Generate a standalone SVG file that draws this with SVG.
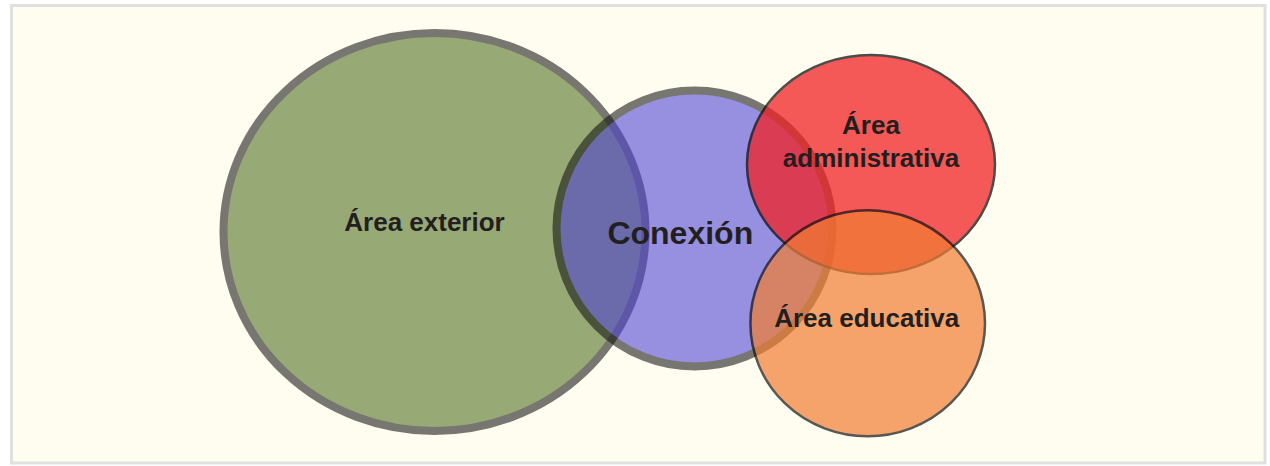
<svg xmlns="http://www.w3.org/2000/svg" width="1270" height="466" viewBox="0 0 1270 466">
<style>
.lbl{font-family:"Liberation Sans",Arial,sans-serif;font-weight:bold;fill:#231f20;text-anchor:middle}
.big{stroke:#111;stroke-width:8}
.thin{stroke:#111;stroke-width:2.5}
</style>
<rect x="11.5" y="5.5" width="1253.5" height="457.5" fill="#fffdf0" stroke="#e0e0e0" stroke-width="3"/>
<g id="nodes">
<g id="exterior"><ellipse class="big" cx="434.5" cy="232" rx="211" ry="199" fill="#496b1a" opacity="0.57"/></g>
<g id="conexion"><ellipse class="big" cx="694.5" cy="228.5" rx="138" ry="138" fill="#4a3ed4" opacity="0.57"/></g>
<g id="administrativa"><ellipse class="thin" cx="871" cy="164.5" rx="124" ry="109.5" fill="#f12125" opacity="0.75"/></g>
<g id="educativa"><ellipse class="thin" cx="867.7" cy="323.3" rx="117.3" ry="113" fill="#f17e32" opacity="0.7"/></g>
</g>
<g id="labels">
<text class="lbl" x="424.5" y="230.7" font-size="26">Área exterior</text>
<text class="lbl" x="680.3" y="244.3" font-size="32">Conexión</text>
<text class="lbl" x="871" y="134" font-size="26">Área</text>
<text class="lbl" x="871" y="166.7" font-size="26">administrativa</text>
<text class="lbl" x="866.7" y="326.7" font-size="26">Área educativa</text>
</g>
<g id="connectors"/>
</svg>
